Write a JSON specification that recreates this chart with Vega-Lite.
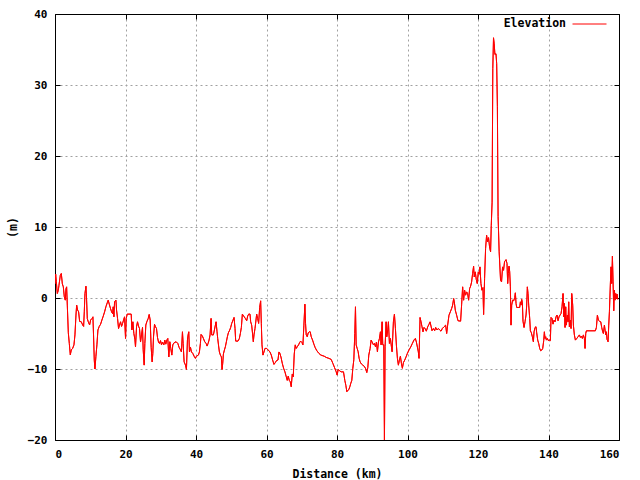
{
  "$schema": "https://vega.github.io/schema/vega-lite/v6.json",
  "width": 564,
  "height": 426,
  "autosize": {"type": "none"},
  "padding": {"left": 55, "top": 14, "right": 21, "bottom": 40},
  "background": "white",
  "config": {
    "view": {"stroke": null},
    "font": "DejaVu Sans Mono",
    "axis": {
      "domain": true,
      "domainColor": "black",
      "domainWidth": 1,
      "grid": true,
      "gridColor": "#a0a0a0",
      "gridDash": [2, 3],
      "gridWidth": 1,
      "tickColor": "black",
      "tickSize": -5,
      "tickWidth": 1,
      "labelFont": "DejaVu Sans Mono",
      "labelFontWeight": "bold",
      "labelFontSize": 11,
      "labelColor": "black",
      "titleFont": "DejaVu Sans Mono",
      "titleFontWeight": "bold",
      "titleFontSize": 11.5,
      "titleColor": "black"
    },
    "legend": {
      "labelFont": "DejaVu Sans Mono",
      "labelFontWeight": "bold",
      "labelFontSize": 11.5,
      "labelColor": "black"
    }
  },
  "data": {"values": [
    {"d":0,"e":2.0},{"d":0.19,"e":3.35},{"d":0.38,"e":2.3},{"d":0.66,"e":0.63},{"d":0.94,"e":1.1},{"d":1.13,"e":1.8},{"d":1.51,"e":3.2},{"d":1.79,"e":3.45},{"d":2.08,"e":2.0},{"d":2.36,"e":1.57},{"d":2.64,"e":0.17},{"d":2.93,"e":-0.3},{"d":3.11,"e":1.3},{"d":3.30,"e":1.57},{"d":3.49,"e":-1.0},{"d":3.78,"e":-4.9},{"d":4.06,"e":-6.4},{"d":4.34,"e":-8.0},{"d":4.63,"e":-7.3},{"d":5.00,"e":-7.1},{"d":5.38,"e":-6.6},{"d":5.66,"e":-5.2},{"d":5.95,"e":-2.4},{"d":6.14,"e":-1.0},{"d":6.42,"e":-1.7},{"d":6.70,"e":-1.95},{"d":6.99,"e":-3.3},{"d":7.46,"e":-3.35},{"d":7.84,"e":-3.8},{"d":8.12,"e":-4.0},{"d":8.31,"e":-1.95},{"d":8.50,"e":0.63},{"d":8.78,"e":1.66},{"d":8.97,"e":-0.3},{"d":9.16,"e":-2.9},{"d":9.44,"e":-3.35},{"d":9.82,"e":-3.8},{"d":10.10,"e":-3.1},{"d":10.48,"e":-2.9},{"d":10.76,"e":-2.65},{"d":10.95,"e":-5.5},{"d":11.14,"e":-8.75},{"d":11.33,"e":-10.0},{"d":11.61,"e":-8.2},{"d":11.89,"e":-6.6},{"d":12.18,"e":-4.5},{"d":12.56,"e":-4.0},{"d":12.93,"e":-3.7},{"d":13.31,"e":-3.1},{"d":13.69,"e":-2.55},{"d":14.07,"e":-1.95},{"d":14.44,"e":-1.24},{"d":14.82,"e":-0.68},{"d":15.10,"e":-0.3},{"d":15.39,"e":-0.87},{"d":15.76,"e":-1.5},{"d":16.05,"e":-1.95},{"d":16.33,"e":-2.2},{"d":16.52,"e":-1.24},{"d":16.71,"e":-2.65},{"d":16.90,"e":-0.54},{"d":17.28,"e":-0.3},{"d":17.46,"e":-1.7},{"d":17.75,"e":-2.9},{"d":18.03,"e":-4.3},{"d":18.31,"e":-3.8},{"d":18.60,"e":-3.35},{"d":18.88,"e":-4.0},{"d":19.16,"e":-3.6},{"d":19.45,"e":-3.1},{"d":19.73,"e":-2.65},{"d":20.01,"e":-5.7},{"d":20.20,"e":-2.9},{"d":20.48,"e":-2.27},{"d":21.62,"e":-2.27},{"d":21.81,"e":-4.5},{"d":22.09,"e":-3.35},{"d":22.37,"e":-5.0},{"d":22.66,"e":-5.8},{"d":22.84,"e":-6.9},{"d":23.13,"e":-4.05},{"d":23.41,"e":-3.35},{"d":23.69,"e":-3.96},{"d":23.98,"e":-4.3},{"d":24.26,"e":-6.2},{"d":24.54,"e":-5.2},{"d":24.83,"e":-4.15},{"d":25.02,"e":-7.3},{"d":25.30,"e":-9.45},{"d":25.49,"e":-6.4},{"d":25.77,"e":-3.8},{"d":26.05,"e":-3.35},{"d":26.43,"e":-2.9},{"d":26.72,"e":-2.32},{"d":27.00,"e":-3.1},{"d":27.28,"e":-6.96},{"d":27.56,"e":-9.0},{"d":27.75,"e":-7.8},{"d":27.94,"e":-5.5},{"d":28.23,"e":-3.7},{"d":28.51,"e":-4.05},{"d":28.79,"e":-4.3},{"d":29.08,"e":-5.56},{"d":29.36,"e":-6.2},{"d":29.64,"e":-6.4},{"d":29.93,"e":-6.0},{"d":30.21,"e":-6.6},{"d":30.49,"e":-6.2},{"d":30.87,"e":-6.6},{"d":31.15,"e":-5.93},{"d":31.43,"e":-6.5},
    {"d":31.72,"e":-5.93},{"d":32.00,"e":-5.7},{"d":32.29,"e":-8.3},{"d":32.57,"e":-6.16},{"d":32.85,"e":-7.1},{"d":33.14,"e":-8.04},{"d":33.42,"e":-6.6},{"d":33.80,"e":-6.3},{"d":34.36,"e":-6.16},{"d":34.84,"e":-6.4},{"d":35.21,"e":-6.96},{"d":35.59,"e":-7.3},{"d":35.87,"e":-7.6},{"d":36.16,"e":-4.76},{"d":36.35,"e":-6.4},{"d":36.63,"e":-9.0},{"d":37.01,"e":-9.45},{"d":37.29,"e":-10.06},{"d":37.57,"e":-5.93},{"d":37.76,"e":-5.2},{"d":37.95,"e":-4.76},{"d":38.14,"e":-7.6},{"d":38.42,"e":-6.9},{"d":38.71,"e":-7.6},{"d":39.08,"e":-7.8},{"d":39.46,"e":-8.2},{"d":39.84,"e":-8.5},{"d":40.12,"e":-8.2},{"d":40.69,"e":-8.04},{"d":40.97,"e":-7.6},{"d":41.25,"e":-6.4},{"d":41.44,"e":-5.13},{"d":41.82,"e":-5.37},{"d":42.10,"e":-5.7},{"d":42.48,"e":-6.16},{"d":42.86,"e":-6.4},{"d":43.14,"e":-6.77},{"d":43.43,"e":-6.4},{"d":43.71,"e":-5.93},{"d":43.99,"e":-5.2},{"d":44.28,"e":-2.88},{"d":44.46,"e":-5.2},{"d":44.94,"e":-5.2},{"d":45.22,"e":-4.5},{"d":45.50,"e":-3.82},{"d":45.69,"e":-3.35},{"d":45.97,"e":-4.76},{"d":46.16,"e":-5.7},{"d":46.45,"e":-6.9},{"d":46.64,"e":-7.6},{"d":46.92,"e":-8.04},{"d":47.20,"e":-8.3},{"d":47.39,"e":-10.06},{"d":47.58,"e":-9.2},{"d":47.77,"e":-7.9},{"d":48.05,"e":-7.34},{"d":48.33,"e":-6.87},{"d":48.62,"e":-6.16},{"d":48.90,"e":-5.46},{"d":49.18,"e":-4.9},{"d":49.56,"e":-4.52},{"d":49.84,"e":-4.15},{"d":50.13,"e":-3.58},{"d":50.51,"e":-3.1},{"d":50.79,"e":-2.74},{"d":51.07,"e":-4.29},{"d":51.26,"e":-6.07},{"d":51.92,"e":-6.07},{"d":52.30,"e":-5.7},{"d":52.58,"e":-5.0},{"d":52.87,"e":-4.15},{"d":53.15,"e":-2.27},{"d":53.53,"e":-2.55},{"d":54.00,"e":-2.88},{"d":54.38,"e":-3.2},{"d":54.66,"e":-2.55},{"d":54.94,"e":-2.27},{"d":55.32,"e":-2.27},{"d":55.51,"e":-3.35},{"d":55.79,"e":-3.82},{"d":56.08,"e":-5.2},{"d":56.26,"e":-6.16},{"d":56.45,"e":-5.2},{"d":56.74,"e":-4.29},{"d":57.02,"e":-3.1},{"d":57.21,"e":-2.27},{"d":57.49,"e":-2.88},{"d":57.77,"e":-3.58},{"d":58.06,"e":-1.33},{"d":58.34,"e":-0.4},{"d":58.53,"e":-3.58},{"d":58.72,"e":-6.6},{"d":59.00,"e":-8.04},{"d":59.28,"e":-7.6},{"d":59.57,"e":-7.1},{"d":60.04,"e":-7.1},{"d":60.51,"e":-7.34},{"d":60.98,"e":-7.6},{"d":61.36,"e":-8.04},{"d":61.74,"e":-8.74},{"d":62.12,"e":-9.35},{"d":62.49,"e":-9.1},{"d":62.87,"e":-8.8},{"d":63.25,"e":-8.74},{"d":63.53,"e":-7.6},
    {"d":63.72,"e":-7.7},{"d":64.10,"e":-8.3},{"d":64.48,"e":-9.2},{"d":64.85,"e":-9.9},{"d":65.23,"e":-10.4},{"d":65.61,"e":-11.1},{"d":65.89,"e":-11.6},{"d":66.17,"e":-11.0},{"d":66.46,"e":-11.6},{"d":66.74,"e":-11.8},{"d":67.02,"e":-12.5},{"d":67.31,"e":-10.7},{"d":67.59,"e":-11.1},{"d":67.87,"e":-7.9},{"d":68.16,"e":-6.6},{"d":68.44,"e":-7.1},{"d":68.72,"e":-6.87},{"d":69.10,"e":-6.6},{"d":69.38,"e":-6.3},{"d":69.67,"e":-6.07},{"d":70.04,"e":-6.26},{"d":70.33,"e":-6.6},{"d":70.61,"e":-3.82},{"d":70.89,"e":-0.87},{"d":71.08,"e":-3.6},{"d":71.27,"e":-5.2},{"d":71.56,"e":-5.46},{"d":71.84,"e":-4.9},{"d":72.12,"e":-4.76},{"d":72.40,"e":-4.76},{"d":72.69,"e":-5.46},{"d":73.07,"e":-5.93},{"d":73.44,"e":-6.5},{"d":73.82,"e":-7.0},{"d":74.29,"e":-7.43},{"d":74.86,"e":-7.8},{"d":75.43,"e":-8.04},{"d":76.37,"e":-8.2},{"d":76.94,"e":-8.37},{"d":77.69,"e":-8.5},{"d":78.35,"e":-8.65},{"d":78.82,"e":-9.2},{"d":79.30,"e":-9.8},{"d":79.77,"e":-10.4},{"d":80.05,"e":-10.86},{"d":80.33,"e":-10.06},{"d":80.71,"e":-10.25},{"d":81.18,"e":-10.4},{"d":81.84,"e":-10.4},{"d":82.22,"e":-11.6},{"d":82.51,"e":-12.3},{"d":82.79,"e":-13.2},{"d":83.07,"e":-13.0},{"d":83.36,"e":-12.9},{"d":83.64,"e":-12.5},{"d":83.92,"e":-12.0},{"d":84.20,"e":-11.6},{"d":84.49,"e":-9.9},{"d":84.77,"e":-8.7},{"d":85.05,"e":-5.0},{"d":85.24,"e":-1.24},{"d":85.43,"e":-6.6},{"d":85.72,"e":-7.1},{"d":86.00,"e":-7.57},{"d":86.28,"e":-8.5},{"d":86.56,"e":-9.0},{"d":86.94,"e":-9.3},{"d":87.32,"e":-9.45},{"d":87.70,"e":-9.6},{"d":88.08,"e":-9.9},{"d":88.45,"e":-10.5},{"d":88.74,"e":-9.8},{"d":89.02,"e":-8.04},{"d":89.40,"e":-7.1},{"d":89.68,"e":-5.93},{"d":89.96,"e":-6.2},{"d":90.34,"e":-6.6},{"d":90.62,"e":-6.4},{"d":90.91,"e":-6.87},{"d":91.19,"e":-6.2},{"d":91.47,"e":-7.57},{"d":91.76,"e":-6.2},{"d":92.04,"e":-5.7},{"d":92.32,"e":-4.76},{"d":92.51,"e":-6.6},{"d":92.80,"e":-3.35},{"d":92.98,"e":-6.6},{"d":93.27,"e":-6.6},{"d":93.46,"e":-20},{"d":93.64,"e":-6.87},{"d":93.93,"e":-3.35},{"d":94.12,"e":-5.46},{"d":94.40,"e":-4.5},{"d":94.59,"e":-3.35},{"d":94.87,"e":-6.4},{"d":95.16,"e":-5.7},{"d":95.44,"e":-6.87},{"d":95.63,"e":-7.57},
    {"d":96.00,"e":-3.36},{"d":96.29,"e":-2.28},{"d":96.57,"e":-4.3},{"d":96.85,"e":-6.64},{"d":97.14,"e":-8.5},{"d":97.42,"e":-9.46},{"d":97.70,"e":-8.75},{"d":97.99,"e":-8.2},{"d":98.27,"e":-9.2},{"d":98.55,"e":-9.9},{"d":98.84,"e":-9.1},{"d":99.21,"e":-8.75},{"d":99.59,"e":-8.3},{"d":99.97,"e":-7.8},{"d":100.44,"e":-7.3},{"d":100.91,"e":-6.9},{"d":101.38,"e":-6.4},{"d":101.86,"e":-5.9},{"d":102.23,"e":-5.7},{"d":102.52,"e":-6.2},{"d":102.80,"e":-6.9},{"d":103.08,"e":-7.6},{"d":103.27,"e":-8.5},{"d":103.56,"e":-2.75},{"d":103.84,"e":-3.36},{"d":104.12,"e":-4.06},{"d":104.40,"e":-4.76},{"d":104.69,"e":-4.15},{"d":104.97,"e":-4.3},{"d":105.35,"e":-4.67},{"d":105.73,"e":-4.06},{"d":106.10,"e":-3.7},{"d":106.39,"e":-3.36},{"d":106.67,"e":-3.96},{"d":106.95,"e":-4.6},{"d":107.33,"e":-4.3},{"d":107.71,"e":-4.6},{"d":107.99,"e":-4.15},{"d":108.37,"e":-4.5},{"d":108.75,"e":-4.3},{"d":109.12,"e":-4.5},{"d":109.50,"e":-4.67},{"d":109.88,"e":-4.3},{"d":110.35,"e":-4.06},{"d":110.82,"e":-3.83},{"d":111.11,"e":-5.0},{"d":111.39,"e":-3.83},{"d":111.77,"e":-2.42},{"d":112.15,"e":-1.95},{"d":112.52,"e":-1.48},{"d":112.81,"e":-1.0},{"d":113.09,"e":-0.08},{"d":113.28,"e":-0.54},{"d":113.56,"e":-1.72},{"d":113.94,"e":-2.42},{"d":114.32,"e":-3.2},{"d":115.07,"e":-3.26},{"d":115.36,"e":-0.87},{"d":115.64,"e":1.57},{"d":115.92,"e":-0.31},{"d":116.20,"e":1.1},{"d":116.49,"e":0.4},{"d":116.77,"e":0.86},{"d":117.05,"e":0.63},{"d":117.34,"e":-0.31},{"d":117.62,"e":1.33},{"d":117.90,"e":1.66},{"d":118.19,"e":2.27},{"d":118.47,"e":3.44},{"d":118.75,"e":4.47},{"d":118.94,"e":2.97},{"d":119.23,"e":3.68},{"d":119.51,"e":2.6},{"d":119.79,"e":2.04},{"d":120.08,"e":3.68},{"d":120.36,"e":3.35},{"d":120.55,"e":4.38},{"d":120.83,"e":2.04},{"d":121.11,"e":1.1},{"d":121.40,"e":1.47},{"d":121.59,"e":-2.33},{"d":121.87,"e":2.74},{"d":122.15,"e":6.96},{"d":122.44,"e":8.84},{"d":122.72,"e":7.9},{"d":123.00,"e":8.5},{"d":123.28,"e":7.2},{"d":123.57,"e":6.5},{"d":123.76,"e":10.2},{"d":124.0,"e":13.5},{"d":124.2,"e":32.3},{"d":124.4,"e":36.65},{"d":124.6,"e":35.8},{"d":124.8,"e":34.3},{"d":125.1,"e":34.4},{"d":125.3,"e":33.0},{"d":125.5,"e":27.0},{"d":125.7,"e":11.5},{"d":126.0,"e":6.5},{"d":126.40,"e":2.5},{"d":126.68,"e":2.27},{"d":126.97,"e":4.38},{"d":127.25,"e":3.9},{"d":127.53,"e":5.1},
    {"d":127.95,"e":5.4},{"d":128.23,"e":4.86},{"d":128.42,"e":2.04},{"d":128.61,"e":3.45},{"d":128.80,"e":4.48},{"d":128.99,"e":3.7},{"d":129.18,"e":1.57},{"d":129.37,"e":-3.82},{"d":129.56,"e":-1.0},{"d":129.84,"e":-0.3},{"d":130.13,"e":-0.4},{"d":130.41,"e":0.07},{"d":130.60,"e":0.73},{"d":130.79,"e":-0.77},{"d":130.98,"e":-1.33},{"d":131.83,"e":-1.33},{"d":132.02,"e":-0.54},{"d":132.21,"e":-1.0},{"d":132.40,"e":-0.2},{"d":132.59,"e":-0.68},{"d":132.77,"e":-3.26},{"d":133.06,"e":-4.15},{"d":133.34,"e":-3.35},{"d":133.63,"e":-2.4},{"d":133.82,"e":-1.0},{"d":134.00,"e":1.57},{"d":134.19,"e":0.63},{"d":134.38,"e":-1.0},{"d":134.67,"e":-2.88},{"d":134.86,"e":-4.62},{"d":135.14,"e":-4.9},{"d":135.42,"e":-5.46},{"d":135.71,"e":-6.16},{"d":135.90,"e":-4.76},{"d":136.18,"e":-4.15},{"d":136.46,"e":-4.05},{"d":136.65,"e":-4.9},{"d":136.94,"e":-5.93},{"d":137.22,"e":-6.4},{"d":137.50,"e":-7.1},{"d":137.79,"e":-7.43},{"d":138.07,"e":-7.34},{"d":138.36,"e":-7.1},{"d":138.64,"e":-6.0},{"d":138.83,"e":-4.76},{"d":139.02,"e":-5.7},{"d":139.21,"e":-5.46},{"d":139.40,"e":-5.93},{"d":139.68,"e":-5.7},{"d":139.96,"e":-6.0},{"d":140.25,"e":-5.93},{"d":140.53,"e":-6.0},{"d":140.72,"e":-2.74},{"d":141.00,"e":-2.88},{"d":141.29,"e":-3.68},{"d":141.57,"e":-3.12},{"d":141.86,"e":-3.35},{"d":142.14,"e":-2.65},{"d":142.42,"e":-2.4},{"d":142.71,"e":-3.2},{"d":142.99,"e":-2.65},{"d":143.28,"e":-2.4},{"d":143.56,"e":-2.18},{"d":143.84,"e":-1.24},{"d":144.13,"e":0.63},{"d":144.32,"e":-2.65},{"d":144.51,"e":-0.77},{"d":144.69,"e":-4.15},{"d":144.88,"e":-1.24},{"d":145.07,"e":-3.82},{"d":145.36,"e":-2.4},{"d":145.55,"e":-3.35},{"d":145.73,"e":-0.54},{"d":145.92,"e":-4.05},{"d":146.21,"e":-3.12},{"d":146.40,"e":-4.3},{"d":146.59,"e":0.63},{"d":146.87,"e":-1.0},{"d":147.06,"e":-3.82},{"d":147.34,"e":-5.2},{"d":147.63,"e":-5.93},{"d":148.01,"e":-5.7},{"d":148.38,"e":-5.46},{"d":148.76,"e":-5.2},{"d":149.05,"e":-5.56},{"d":149.33,"e":-5.37},{"d":149.61,"e":-5.7},{"d":149.90,"e":-5.2},{"d":150.18,"e":-5.7},{"d":150.37,"e":-7.1},{"d":150.56,"e":-5.0},{"d":150.75,"e":-4.62},{"d":153.30,"e":-4.62},{"d":153.59,"e":-4.15},{"d":153.87,"e":-2.4},{"d":154.15,"e":-3.12},{"d":154.44,"e":-3.26},{"d":154.82,"e":-3.35},{"d":155.10,"e":-4.15},{"d":155.38,"e":-4.76},{"d":155.57,"e":-5.0},{"d":155.86,"e":-3.82},{"d":156.05,"e":-4.52},{"d":156.24,"e":-5.2},{"d":156.42,"e":-4.76},{"d":156.61,"e":-5.84},{"d":156.90,"e":-6.16},{"d":157.09,"e":-3.82},{"d":157.28,"e":-1.94},{"d":157.56,"e":2.13},{"d":157.75,"e":4.39},{"d":157.94,"e":2.04},{"d":158.13,"e":5.89},{"d":158.32,"e":2.27},{"d":158.51,"e":-1.8},{"d":158.70,"e":1.1},{"d":158.88,"e":-0.3},{"d":159.07,"e":0.63},{"d":159.26,"e":-0.07},{"d":159.45,"e":0.54},{"d":159.64,"e":-0.2}
  ]},
  "layer": [
    {
      "mark": {"type": "line", "strokeWidth": 1, "clip": true, "strokeJoin": "miter"},
      "encoding": {
        "x": {"field": "d", "type": "quantitative", "scale": {"domain": [0, 160], "nice": false},
          "axis": {"orient": "bottom", "values": [0,20,40,60,80,100,120,140,160], "title": "Distance (km)", "labelPadding": 13, "titlePadding": 9}},
        "y": {"field": "e", "type": "quantitative", "scale": {"domain": [-20, 40], "nice": false},
          "axis": {"orient": "left", "values": [-20,-10,0,10,20,30,40], "title": "(m)", "labelPadding": 13, "titlePadding": 9}},
        "color": {"datum": "Elevation", "scale": {"range": ["#ff0000"]},
          "legend": {"orient": "none", "legendX": 517, "legendY": -7.5, "title": null, "symbolType": "stroke", "symbolSize": 1156, "symbolStrokeWidth": 1, "labelAlign": "right", "labelOffset": -41, "padding": 0}}
      }
    },
    {
      "mark": {"type": "line", "strokeWidth": 1, "clip": true, "color": "#ff0000", "strokeJoin": "miter"},
      "encoding": {
        "x": {"field": "d", "type": "quantitative", "scale": {"domain": [0, 160], "nice": false},
          "axis": {"orient": "top", "values": [0,20,40,60,80,100,120,140,160], "title": null, "labels": false, "grid": false}},
        "y": {"field": "e", "type": "quantitative", "scale": {"domain": [-20, 40], "nice": false},
          "axis": {"orient": "right", "values": [-20,-10,0,10,20,30,40], "title": null, "labels": false, "grid": false}}
      }
    }
  ],
  "resolve": {"axis": {"x": "independent", "y": "independent"}}
}
